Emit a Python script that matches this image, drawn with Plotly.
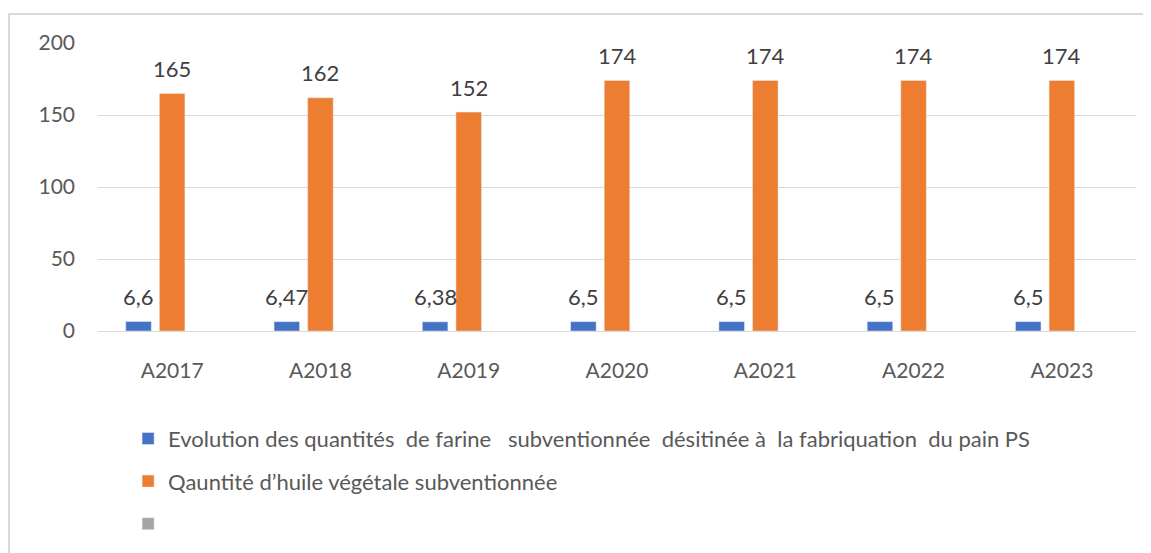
import plotly.graph_objects as go

categories = ["A2017", "A2018", "A2019", "A2020", "A2021", "A2022", "A2023"]
farine = [6.6, 6.47, 6.38, 6.5, 6.5, 6.5, 6.5]
huile = [165, 162, 152, 174, 174, 174, 174]
serie3 = [None] * 7

name_farine = "Evolution des quantités  de farine   subventionnée  désitinée à  la fabriquation  du pain PS".replace("  ", "\u00a0\u00a0")
name_huile = "Qauntité d’huile végétale subventionnée"
name_3 = " "

FONT = "Lato"
TXT = "#595959"
LBL = "#404040"


def fmt(v):
    return f"{v:g}".replace(".", ",")


fig = go.Figure()
fig.add_trace(go.Bar(x=categories, y=farine, name=name_farine, marker_color="#4472C4",
                     legendgroup="a", offsetgroup="a"))
fig.add_trace(go.Bar(x=categories, y=huile, name=name_huile, marker_color="#ED7D31",
                     legendgroup="b", offsetgroup="b"))
fig.add_trace(go.Bar(x=categories, y=serie3, name=name_3, marker_color="#A5A5A5",
                     legendgroup="c", offsetgroup="c"))

# data labels placed above bars, shifted horizontally to each bar of the group
slot = 148.3 * (1 - 0.32) / 3
ann = []
for i, c in enumerate(categories):
    ann.append(dict(x=c, y=farine[i], text=fmt(farine[i]), showarrow=False,
                    xshift=-slot, yshift=25, yanchor="middle",
                    font=dict(family=FONT, size=22, color=LBL)))
    ann.append(dict(x=c, y=huile[i], text=fmt(huile[i]), showarrow=False,
                    xshift=0, yshift=25, yanchor="middle",
                    font=dict(family=FONT, size=22, color=LBL)))

fig.update_layout(
    width=1151, height=561,
    margin=dict(l=90, r=23, t=35, b=238),
    paper_bgcolor="white", plot_bgcolor="white",
    barmode="group", bargap=0.32, bargroupgap=0.24,
    font=dict(family=FONT, size=21, color=TXT),
    annotations=ann,
    showlegend=True,
    legend=dict(orientation="v", x=0.029, xanchor="left", y=-0.301, yanchor="top",
                font=dict(family=FONT, size=22, color=TXT), tracegroupgap=11,
                bgcolor="rgba(0,0,0,0)"),
    shapes=[dict(type="rect", xref="paper", yref="paper",
                 x0=-0.0857, x1=1.05, y0=-0.95, y1=1.1007,
                 line=dict(color="#D9D9D9", width=2), fillcolor="rgba(0,0,0,0)", layer="below")],
)
fig.update_xaxes(showgrid=False, showline=False, ticks="", tickfont=dict(size=21, color=TXT),
                 ticklabelstandoff=25)
fig.update_yaxes(range=[0, 200], dtick=50, showgrid=True, gridcolor="#D9D9D9", gridwidth=1,
                 zeroline=True, zerolinecolor="#D9D9D9", zerolinewidth=1, showline=False,
                 ticks="", tickfont=dict(size=21, color=TXT), ticklabelstandoff=22)

fig.write_html("out.html")
